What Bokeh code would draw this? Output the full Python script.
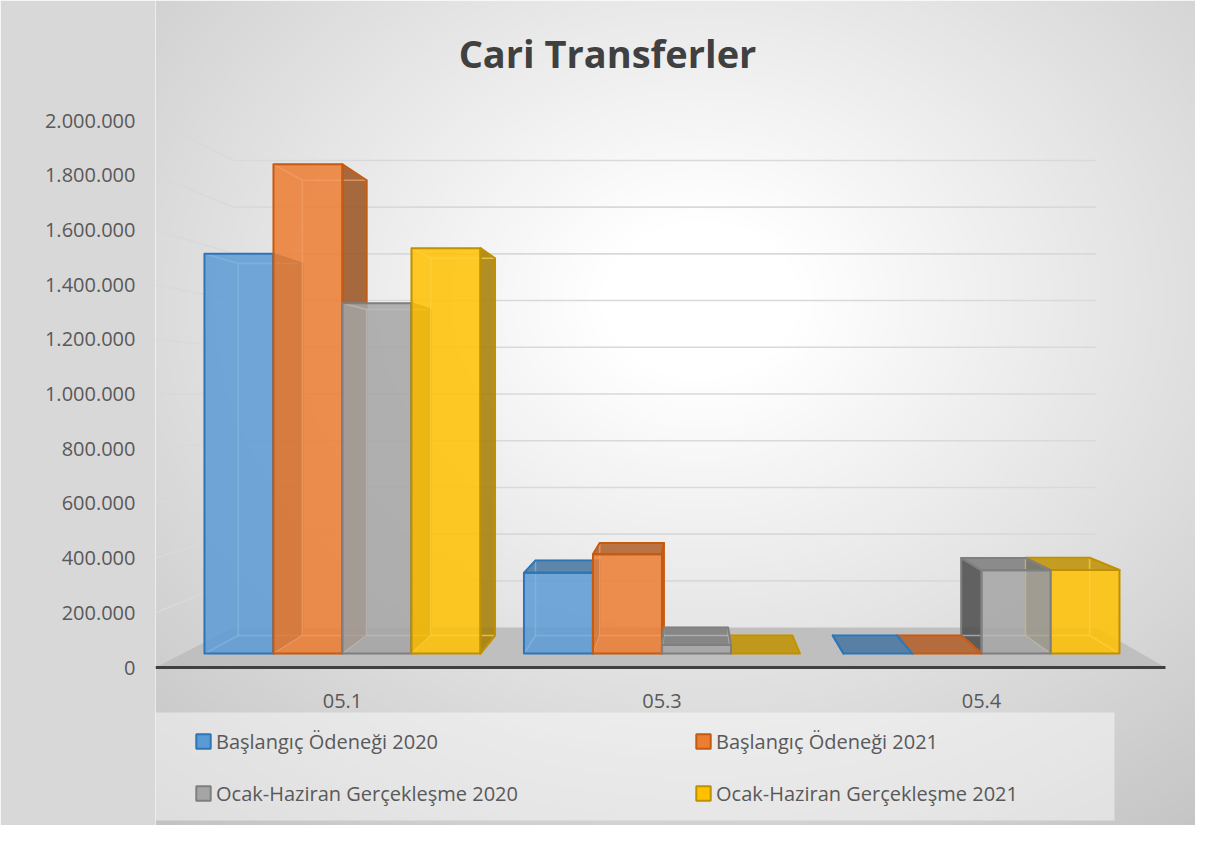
import numpy as np
from bokeh.plotting import figure
from bokeh.models import (ColumnDataSource, Range1d, FixedTicker, CustomJSTickFormatter,
                          Legend, LegendItem, BoxAnnotation, Label)
from bokeh.embed import file_html
from bokeh.resources import INLINE
from bokeh.core.properties import value

# ---------------- data ----------------
categories = ["05.1", "05.3", "05.4"]
series_names = ["Başlangıç Ödeneği 2020", "Başlangıç Ödeneği 2021",
                "Ocak-Haziran Gerçekleşme 2020", "Ocak-Haziran Gerçekleşme 2021"]
baslangic_2020 = [1540000, 311000, 0]
baslangic_2021 = [1885000, 383000, 0]
gerceklesme_2020 = [1350000, 33000, 321000]
gerceklesme_2021 = [1562000, 0, 322000]
y_ticks = [0, 200000, 400000, 600000, 800000, 1000000,
           1200000, 1400000, 1600000, 1800000, 2000000]
series_values = [baslangic_2020, baslangic_2021, gerceklesme_2020, gerceklesme_2021]

# ---------------- style ----------------
fill_colors = ["#5B9BD5", "#ED7D31", "#A5A5A5", "#FFC000"]
edge_colors = ["#2E75B6", "#C55A11", "#7F7F7F", "#BF9000"]
TEXT_COLOR = "#595959"
FONT = "Open Sans"

W, H = 1195, 825
FRAME_LEFT = 155          # px where the front plane starts
AXIS_Y0 = 667             # px of value 0 on the front plane
PX_PER_UNIT_Y = 547 / 2e6
CAT_PX = 1010 / 3.0       # px per category on the front plane

# 3D perspective (vanishing point in data units, depth scale factors)
VPX = (689 - FRAME_LEFT) / CAT_PX
VPY = 1.0e6
S_FRONT, S_BACK, S_WALL = 0.949, 0.883, 0.854
BAR_W = 0.216


def dx(px):
    return (px - FRAME_LEFT) / CAT_PX


def dy(py):
    return (AXIS_Y0 - py) / PX_PER_UNIT_Y


def proj(x, y, s):
    return (VPX + (x - VPX) * s, VPY + (y - VPY) * s)


def shade(hexc, k):
    h = hexc.lstrip("#")
    r, g, b = int(h[0:2], 16), int(h[2:4], 16), int(h[4:6], 16)
    return "#%02x%02x%02x" % (int(r * k), int(g * k), int(b * k))


def tint(hexc, t):
    h = hexc.lstrip("#")
    r, g, b = int(h[0:2], 16), int(h[2:4], 16), int(h[4:6], 16)
    return "#%02x%02x%02x" % (int(r + (255 - r) * t), int(g + (255 - g) * t), int(b + (255 - b) * t))


x_range = Range1d(0, dx(W))
y_range = Range1d(dy(H), dy(0))

p = figure(width=W, height=H, x_range=x_range, y_range=y_range,
           output_backend="svg", toolbar_location=None, x_axis_type=None,
           min_border_left=FRAME_LEFT, min_border_right=0, min_border_top=0, min_border_bottom=0)
p.border_fill_color = "#d8d8d8"
p.background_fill_color = "#ffffff"
p.outline_line_color = None
p.ygrid.grid_line_color = None

# background radial gradient (style only)
nx, ny = 260, 206
px_c = FRAME_LEFT + (np.arange(nx) + 0.5) * (W - FRAME_LEFT) / nx
py_c = (np.arange(ny) + 0.5) * H / ny
PX, PY = np.meshgrid(px_c, py_c)
d = np.sqrt((PX - 700) ** 2 + (1.25 * (PY - 300)) ** 2)
val = np.clip(255 - np.maximum(0, d - 100) * 0.08, 190, 255).astype(np.uint8)
val = val[::-1, :]
img = np.empty((ny, nx), dtype=np.uint32)
view = img.view(dtype=np.uint8).reshape((ny, nx, 4))
view[:, :, 0] = val
view[:, :, 1] = val
view[:, :, 2] = val
view[:, :, 3] = 255
p.image_rgba(image=[img], x=x_range.start, y=y_range.start,
             dw=x_range.end - x_range.start, dh=y_range.end - y_range.start)

# y axis
ax = p.yaxis[0]
ax.ticker = FixedTicker(ticks=y_ticks)
ax.formatter = CustomJSTickFormatter(code=r"return tick.toFixed(0).replace(/\B(?=(\d{3})+(?!\d))/g, '.');")
ax.axis_line_color = None
ax.major_tick_line_color = None
ax.minor_tick_line_color = None
ax.major_tick_out = 0
ax.major_label_standoff = 20
ax.major_label_text_font = FONT
ax.major_label_text_font_size = "20px"
ax.major_label_text_color = TEXT_COLOR

ncat = len(categories)

# floor
floor_pts = [proj(0, 0, 1.0), proj(ncat, 0, 1.0), proj(ncat, 0, S_WALL), proj(0, 0, S_WALL)]
p.patch([q[0] for q in floor_pts], [q[1] for q in floor_pts], fill_color="#bfbfbf", line_color=None)

# wall gridlines
gx, gy = [], []
for v in y_ticks[1:]:
    bl = proj(0, v, S_WALL)
    br = proj(ncat, v, S_WALL)
    gx.append([0, bl[0], br[0]])
    gy.append([v, bl[1], br[1]])
p.multi_line(gx, gy, line_color="#d9d9d9", line_width=1.6)

# axis line
p.line([0, ncat], [0, 0], line_color="#404040", line_width=3)

# bars
faces = dict(xs=[], ys=[], fc=[], fa=[], lc=[], la=[], lw=[])


def add(poly, fc, fa, lc, la, lw):
    faces["xs"].append([q[0] for q in poly])
    faces["ys"].append([q[1] for q in poly])
    faces["fc"].append(fc)
    faces["fa"].append(fa)
    faces["lc"].append(lc)
    faces["la"].append(la)
    faces["lw"].append(lw)


bars = []
for gi in range(ncat):
    for si in range(len(series_values)):
        v = series_values[si][gi]
        x0 = gi + 0.5 - 2 * BAR_W + si * BAR_W
        bars.append((x0, x0 + BAR_W, v, si))
bars.sort(key=lambda b: -abs((b[0] + b[1]) / 2 - VPX))

for x0, x1, v, si in bars:
    base, edge = fill_colors[si], edge_colors[si]
    F00, F10, F11, F01 = proj(x0, 0, S_FRONT), proj(x1, 0, S_FRONT), proj(x1, v, S_FRONT), proj(x0, v, S_FRONT)
    B00, B10, B11, B01 = proj(x0, 0, S_BACK), proj(x1, 0, S_BACK), proj(x1, v, S_BACK), proj(x0, v, S_BACK)
    front = [F00, F10, F11, F01]
    back = [B00, B10, B11, B01]
    top = [F01, F11, B11, B01]
    left = [F00, F01, B01, B00]
    right = [F10, F11, B11, B10]
    visible = []
    if x1 < VPX:
        visible.append((right, shade(base, 0.65)))
    if x0 > VPX:
        visible.append((left, shade(base, 0.45)))
    if v < VPY:
        visible.append((top, shade(base, 0.75)))
    if v > 0:
        visible.append((front, base))
    for poly, c in visible:
        add(poly, c, 0.85, edge, 0.0, 0)
    light = tint(base, 0.25)
    add(back, base, 0.0, light, 0.75, 1.5)
    for a, b in [(F00, B00), (F10, B10), (F11, B11), (F01, B01)]:
        add([a, b], base, 0.0, light, 0.75, 1.5)
    for poly, c in visible:
        add(poly, c, 0.0, edge, 1.0, 2)

src = ColumnDataSource(faces)
p.patches("xs", "ys", source=src, fill_color="fc", fill_alpha="fa",
          line_color="lc", line_alpha="la", line_width="lw", line_join="round")

# category labels
lab_x = [proj(i + 0.5, 0, S_FRONT)[0] for i in range(ncat)]
p.text(x=lab_x, y=[dy(700)] * ncat, text=categories, text_align="center", text_baseline="middle",
       text_font=value(FONT), text_font_size="20px", text_color=TEXT_COLOR)

# title
p.add_layout(Label(x=dx(607), y=dy(52), text="Cari Transferler", text_align="center",
                   text_baseline="middle", text_font=FONT, text_font_style="bold",
                   text_font_size="38px", text_color="#404040"))

# legend background
p.add_layout(BoxAnnotation(left=dx(107), right=dx(1114), top=dy(712), bottom=dy(820),
                           fill_color="#ffffff", fill_alpha=0.45, line_color=None))

# legend (proxy renderers hold no visible point)
nan = float("nan")
proxies = []
for si in range(len(series_names)):
    r = p.quad(left=[nan], right=[nan], top=[nan], bottom=[nan], fill_color=fill_colors[si],
               line_color=edge_colors[si], line_width=2)
    proxies.append(r)
legend = Legend(items=[LegendItem(label=series_names[i], renderers=[proxies[i]]) for i in range(4)],
                orientation="horizontal", ncols=2, location=(39, 18),
                glyph_width=18, glyph_height=18, label_standoff=4, label_width=454,
                label_height=28, spacing=24, padding=0, margin=0,
                border_line_color=None, background_fill_alpha=0,
                label_text_font=FONT, label_text_font_size="20px", label_text_color=TEXT_COLOR)
p.add_layout(legend)

open("out.html", "w").write(file_html(p, INLINE))
